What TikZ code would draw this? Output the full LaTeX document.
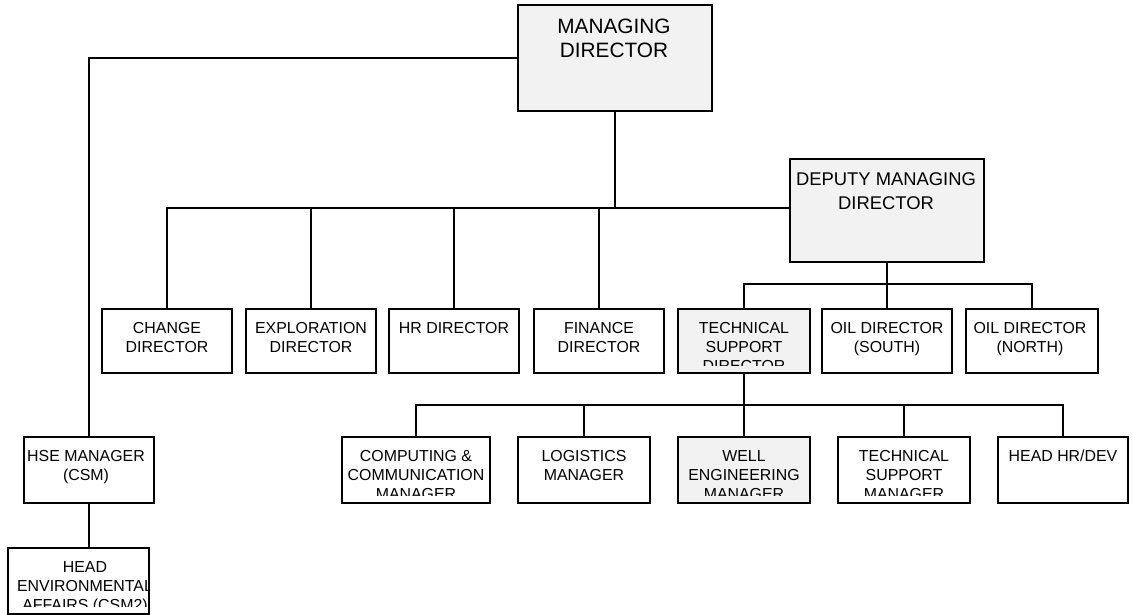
\documentclass[tikz,border=0pt]{standalone}
\usepackage{fontspec}
\setmainfont{Liberation Sans}
\definecolor{boxgrey}{HTML}{F2F2F2}
\newcommand{\obox}[8]{%
  \node[#2, minimum width={#5-#3}, minimum height={#6-#4}] (#1) at ({(#3+#5)/2},{(#4+#6)/2}) {};
  \begin{scope}
    \clip (#3,#4) rectangle (#5,#6-8);
    \node[lbl] (#1-t) at (#7,#4) {\rule{0pt}{24pt}#8};
  \end{scope}}
\begin{document}
\begin{tikzpicture}[x=1pt,y=-1pt,
  box/.style={draw=black, line width=1.3pt, rectangle, inner sep=0pt, fill=white},
  grey/.style={box, fill=boxgrey},
  lbl/.style={anchor=north, inner sep=0pt, align=center, font=\fontsize{15.9}{19}\selectfont},
  conn/.style={draw=black, line width=1.4pt}]
\useasboundingbox (0,0) rectangle (1133,615);
% top level
\node[grey, minimum width=194, minimum height=106] (md) at (615,58) {};
\node[lbl, font=\fontsize{20.8}{24}\selectfont] (md-t) at (614,5) {\rule{0pt}{28pt}MANAGING\\DIRECTOR};
\node[grey, minimum width=194, minimum height=103] (dmd) at (887,210.5) {};
\node[lbl, font=\fontsize{18.4}{24}\selectfont] (dmd-t) at (886,159) {\rule{0pt}{26pt}DEPUTY MANAGING\\DIRECTOR};
% second row
\obox{change}{box}{102}{309}{232}{373}{167}{CHANGE\\DIRECTOR}
\obox{expl}{box}{246}{309}{376}{373}{311}{EXPLORATION\\DIRECTOR}
\obox{hr}{box}{389}{309}{519}{373}{454}{HR DIRECTOR}
\obox{fin}{box}{534}{309}{664}{373}{599}{FINANCE\\DIRECTOR}
\obox{tsd}{grey}{678}{309}{810}{373}{744}{TECHNICAL\\SUPPORT\\DIRECTOR}
\obox{oils}{box}{822}{309}{952}{373}{887}{OIL DIRECTOR\\(SOUTH)}
\obox{oiln}{box}{966}{309}{1098}{373}{1030}{OIL DIRECTOR\\(NORTH)}
% third row
\obox{comp}{box}{342}{437}{490}{503}{416}{COMPUTING \&\\COMMUNICATION\\MANAGER}
\obox{log}{box}{518}{437}{650}{503}{584}{LOGISTICS\\MANAGER}
\obox{well}{grey}{678}{437}{810}{503}{744}{WELL\\ENGINEERING\\MANAGER}
\obox{tsm}{box}{838}{437}{970}{503}{904}{TECHNICAL\\SUPPORT\\MANAGER}
\obox{hhr}{box}{998}{437}{1128}{503}{1063}{HEAD HR/DEV}
% HSE branch
\obox{hse}{box}{24}{437}{154}{503}{86}{HSE MANAGER\\(CSM)}
\obox{env}{box}{8}{548}{149}{614}{85}{HEAD\\ENVIRONMENTAL\\AFFAIRS (CSM2)}
% connectors
\coordinate (b1) at (0,208);
\coordinate (b2) at (0,284);
\coordinate (b3) at (0,405);
\draw[conn] (md.west) -| (hse.north);
\draw[conn] (md.south) -- (md.south |- b1);
\draw[conn] (change.north) |- (b1 -| dmd.west);
\draw[conn] (expl.north) -- (expl.north |- b1);
\draw[conn] (hr.north) -- (hr.north |- b1);
\draw[conn] (fin.north) -- (fin.north |- b1);
\draw[conn] (dmd.south) -- (oils.north);
\draw[conn] (tsd.north) |- (b2 -| oiln.north) -- (oiln.north);
\draw[conn] (tsd.south) -- (tsd.south |- b3);
\draw[conn] (comp.north) |- (b3 -| hhr.north) -- (hhr.north);
\draw[conn] (log.north) -- (log.north |- b3);
\draw[conn] (well.north) -- (well.north |- b3);
\draw[conn] (tsm.north) -- (tsm.north |- b3);
\draw[conn, line width=2pt] (b3 -| log.north) -- (b3 -| tsd.south);
\draw[conn] (hse.south) -- (hse.south |- env.north);
\end{tikzpicture}
\end{document}
